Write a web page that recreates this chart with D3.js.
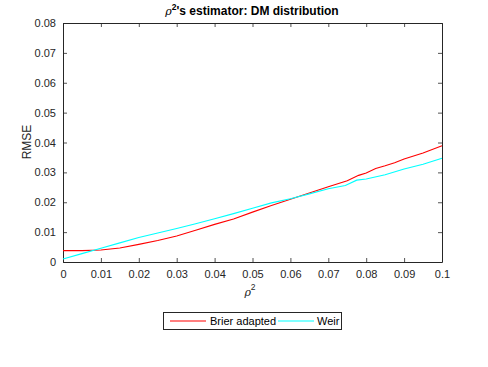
<!DOCTYPE html>
<html><head><meta charset="utf-8">
<script src="https://cdn.jsdelivr.net/npm/d3@7"></script>
<style>body{margin:0;background:#fff}svg{display:block;font-family:"Liberation Sans",Arial,sans-serif}</style>
</head><body><div id="c"></div>
<script>
const xTicks = [0,0.01,0.02,0.03,0.04,0.05,0.06,0.07,0.08,0.09,0.1];
const yTicks = [0,0.01,0.02,0.03,0.04,0.05,0.06,0.07,0.08];
const brierX = [0,0.005,0.01,0.015,0.02,0.025,0.03,0.035,0.04,0.045,0.05,0.055,0.06,0.065,0.07,0.075,0.078,0.08,0.0825,0.085,0.0875,0.09,0.095,0.1];
const brierY = [0.0038,0.0038,0.0040,0.0047,0.0059,0.0072,0.0087,0.0106,0.0126,0.0144,0.0167,0.0189,0.0210,0.0231,0.0252,0.0272,0.0290,0.0298,0.0313,0.0322,0.0332,0.0345,0.0365,0.0389];
const weirX = [0,0.005,0.01,0.015,0.02,0.025,0.03,0.035,0.04,0.045,0.05,0.055,0.06,0.065,0.07,0.0745,0.0775,0.08,0.085,0.09,0.095,0.1];
const weirY = [0.0010,0.0028,0.0046,0.0064,0.0082,0.0097,0.0112,0.0128,0.0145,0.0162,0.0180,0.0198,0.0212,0.0228,0.0245,0.0256,0.0274,0.0278,0.0292,0.0311,0.0327,0.0347];
const seriesNames = ["Brier adapted","Weir"];
const colors = ["#ff0000","#00ffff"];

const W=488,H=367, L=63, R=442, T=23, B=262;
const svg=d3.select("#c").append("svg").attr("width",W).attr("height",H);
const x=d3.scaleLinear().domain([0,0.1]).range([L,R]);
const y=d3.scaleLinear().domain([0,0.08]).range([B,T]);
const ax="#262626";
const fmt=d=>d===0?"0":String(+d.toFixed(2));

const gx=svg.append("g").attr("transform",`translate(0,${B})`)
  .call(d3.axisBottom(x).tickValues(xTicks).tickFormat(fmt).tickSizeInner(-4).tickSizeOuter(0).tickPadding(8));
const gy=svg.append("g").attr("transform",`translate(${L},0)`)
  .call(d3.axisLeft(y).tickValues(yTicks).tickFormat(fmt).tickSizeInner(-4).tickSizeOuter(0).tickPadding(7));
const gxt=svg.append("g").attr("transform",`translate(0,${T})`)
  .call(d3.axisTop(x).tickValues(xTicks).tickFormat("").tickSizeInner(-4).tickSizeOuter(0));
const gyr=svg.append("g").attr("transform",`translate(${R},0)`)
  .call(d3.axisRight(y).tickValues(yTicks).tickFormat("").tickSizeInner(-4).tickSizeOuter(0));
[gx,gy,gxt,gyr].forEach(g=>{
  g.selectAll("path").attr("stroke",ax).attr("stroke-width",1);
  g.selectAll("line").attr("stroke",ax).attr("stroke-width",0.8);
  g.selectAll("text").attr("fill",ax).attr("font-size",11).attr("font-family","Liberation Sans, Arial, sans-serif");
});

const line=d3.line().x(d=>x(d[0])).y(d=>y(d[1]));
svg.append("path").datum(brierX.map((v,i)=>[v,brierY[i]])).attr("d",line)
  .attr("fill","none").attr("stroke",colors[0]).attr("stroke-width",1.1);
svg.append("path").datum(weirX.map((v,i)=>[v,weirY[i]])).attr("d",line)
  .attr("fill","none").attr("stroke",colors[1]).attr("stroke-width",1.1);

// title
const t=svg.append("text").attr("x",252).attr("y",15).attr("text-anchor","middle")
  .attr("font-size",12).attr("fill","#000");
t.append("tspan").attr("font-style","italic").attr("font-family","DejaVu Serif, serif").attr("font-size",11).text("ρ");
t.append("tspan").attr("font-weight","bold").attr("font-size",8.5).attr("dy",-5).text("2");
t.append("tspan").attr("font-weight","bold").attr("dy",5).text("'s estimator: DM distribution");

// y label
svg.append("text").attr("transform","translate(31,142) rotate(-90)").attr("text-anchor","middle")
  .attr("font-size",12).attr("fill",ax).text("RMSE");
// x label
const xl=svg.append("text").attr("x",250).attr("y",296).attr("text-anchor","middle").attr("fill",ax).attr("font-size",12);
xl.append("tspan").attr("font-style","italic").attr("font-family","DejaVu Serif, serif").attr("font-size",11).text("ρ");
xl.append("tspan").attr("font-size",8.5).attr("dy",-6).text("2");

// legend
const lg=svg.append("g");
lg.append("rect").attr("x",163.5).attr("y",312.5).attr("width",178).attr("height",17)
  .attr("fill","#fff").attr("stroke",ax).attr("stroke-width",1);
const items=[{x1:170,x2:206,tx:210},{x1:278,x2:314,tx:317}];
items.forEach((it,i)=>{
  lg.append("line").attr("x1",it.x1).attr("x2",it.x2).attr("y1",321).attr("y2",321).attr("stroke",colors[i]).attr("stroke-width",1.1);
  lg.append("text").attr("x",it.tx).attr("y",325).attr("font-size",11).attr("fill","#000").text(seriesNames[i]);
});
</script></body></html>
